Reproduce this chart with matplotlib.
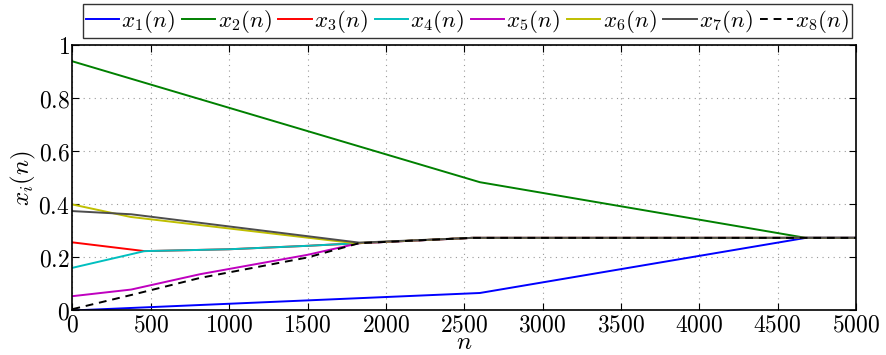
import matplotlib
matplotlib.use("Agg")
import matplotlib.pyplot as plt
from matplotlib.ticker import FuncFormatter

plt.rcParams["mathtext.fontset"] = "cm"
plt.rcParams["font.family"] = "serif"
plt.rcParams["font.serif"] = ["DejaVu Serif"]

# ---- consensus trajectories (breakpoints of each piecewise-linear state) ----
n_x1 = [0, 2600, 4680, 5000]
x1 = [0.0, 0.066, 0.274, 0.274]

n_x2 = [0, 2600, 4680, 5000]
x2 = [0.94, 0.484, 0.274, 0.274]

n_x3 = [0, 460, 1000, 1500, 1830, 2550, 5000]
x3 = [0.257, 0.224, 0.231, 0.244, 0.254, 0.274, 0.274]

n_x4 = [0, 460, 1000, 1500, 1830, 2550, 5000]
x4 = [0.161, 0.224, 0.231, 0.244, 0.254, 0.274, 0.274]

n_x5 = [0, 375, 815, 1500, 1830, 2550, 5000]
x5 = [0.054, 0.079, 0.137, 0.210, 0.254, 0.274, 0.274]

n_x6 = [0, 370, 1800, 2550, 5000]
x6 = [0.400, 0.353, 0.254, 0.274, 0.274]

n_x7 = [0, 375, 1830, 2550, 5000]
x7 = [0.375, 0.363, 0.256, 0.274, 0.274]

n_x8 = [0, 400, 815, 1500, 1830, 2550, 5000]
x8 = [0.005, 0.062, 0.123, 0.200, 0.254, 0.274, 0.274]

series = [
    (n_x1, x1, (0, 0, 1), "-"),
    (n_x2, x2, (0, 0.5, 0), "-"),
    (n_x3, x3, (1, 0, 0), "-"),
    (n_x4, x4, (0, 0.75, 0.75), "-"),
    (n_x5, x5, (0.75, 0, 0.75), "-"),
    (n_x6, x6, (0.75, 0.75, 0), "-"),
    (n_x7, x7, (0.3, 0.3, 0.3), "-"),
    (n_x8, x8, (0, 0, 0), "--"),
]
labels = [rf"$x_{i}(n)$" for i in range(1, 9)]

fig = plt.figure(figsize=(8.87, 3.55), dpi=100)
ax = fig.add_axes([0.0817, 0.1254, 0.8833, 0.7466])

for (nn, vv, col, ls), lab in zip(series, labels):
    ax.plot(nn, vv, color=col, linestyle=ls, linewidth=1.4, label=lab,
            dashes=(4, 3) if ls == "--" else (None, None))

ax.set_xlim(0, 5000)
ax.set_ylim(0, 1)
ax.set_xticks(range(0, 5001, 500))
ax.set_yticks([0, 0.2, 0.4, 0.6, 0.8, 1.0])
ax.xaxis.set_major_formatter(FuncFormatter(lambda v, p: f"${int(v)}$"))
ax.yaxis.set_major_formatter(FuncFormatter(lambda v, p: "$%g$" % round(v, 1)))
ax.tick_params(direction="in", top=True, right=True, labelsize=17, length=5, width=0.8, pad=2)
ax.grid(True, linestyle=(0, (1, 4)), color="0.6", linewidth=0.8)
for s in ax.spines.values():
    s.set_linewidth(1.2)

ax.set_xlabel(r"$n$", fontsize=18, labelpad=-4)
ax.set_ylabel(r"$x_i(n)$", fontsize=18, labelpad=0)

leg = fig.legend(loc="center", bbox_to_anchor=(0.527, 0.94), ncol=8, fontsize=16.5,
                 frameon=True, fancybox=False, handlelength=1.45, handletextpad=0.1,
                 columnspacing=0.3, borderpad=0.15, borderaxespad=0)
leg.get_frame().set_edgecolor("black")
leg.get_frame().set_linewidth(1.0)

fig.savefig("out.png", dpi=100)
